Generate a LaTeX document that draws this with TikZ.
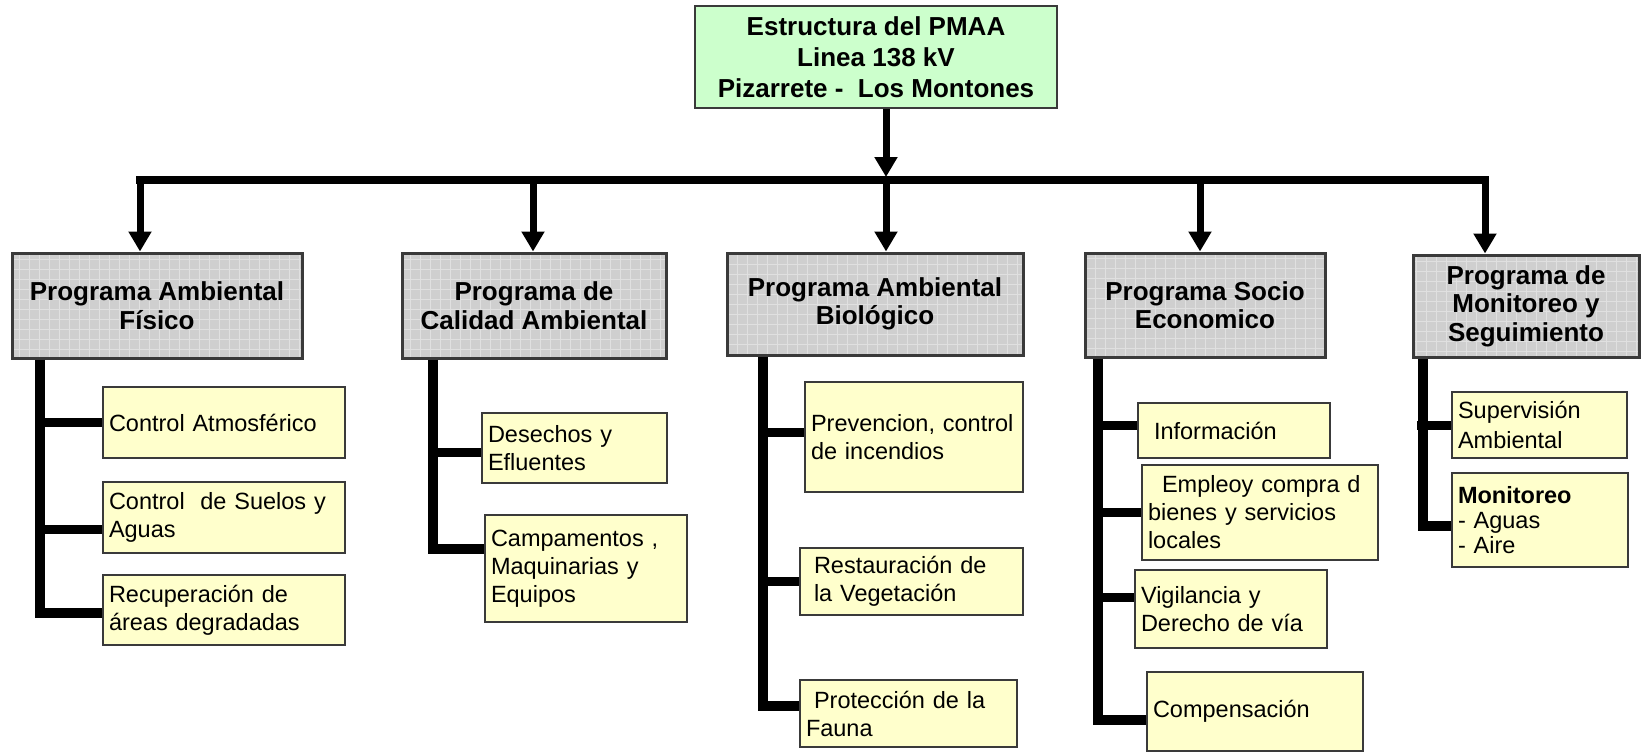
\documentclass[tikz,border=0pt]{standalone}
\usepackage{fontspec}
\setmainfont{Liberation Sans}
\usetikzlibrary{arrows.meta}
\definecolor{topfill}{HTML}{CCFFCC}
\definecolor{subfill}{HTML}{FFFFCC}
\definecolor{progfill}{HTML}{CFCFCF}
\definecolor{gridcol}{HTML}{E0E0E0}
\definecolor{boxline}{HTML}{3A3A3A}
\begin{document}
\begin{tikzpicture}[x=1pt,y=-1pt,
  topbox/.style={draw=boxline, line width=2pt, fill=topfill, align=center, font=\bfseries\fontsize{26}{31}\selectfont, inner sep=0pt},
  prog/.style={draw=boxline, line width=3pt, fill=progfill, align=center, font=\bfseries\fontsize{26}{28.5}\selectfont, inner sep=0pt,
    path picture={\draw[gridcol, line width=1pt] (path picture bounding box.south west) grid[step=10pt] (path picture bounding box.north east);}},
  sub/.style={draw=boxline, line width=2pt, fill=subfill, align=left, font=\fontsize{23.5}{28}\selectfont, inner xsep=6pt, inner ysep=0pt},
  arr/.style={line width=7pt, -{Triangle[width=22pt,length=20pt]}},
  bar/.style={line width=8pt, line cap=rect},
  trunk/.style={line width=10pt},
  branch/.style={line width=9pt},
]
\useasboundingbox (0,0) rectangle (1644,753);
\fill[white] (0,0) rectangle (1644,753);

% top
\node[topbox, minimum width=362pt, minimum height=102pt] (top) at (876,57) {Estructura del PMAA\\Linea 138 kV\\Pizarrete -\ \ Los Montones};

% programs
\node[prog, minimum width=290pt, minimum height=105pt] (p1) at (157,305.5) {Programa Ambiental\\Físico};
\node[prog, minimum width=264pt, minimum height=105pt] (p2) at (534,305.5) {Programa de\\Calidad Ambiental};
\node[prog, minimum width=296pt, minimum height=102pt] (p3) at (875,304) {Programa Ambiental\\Biológico};
\node[prog, minimum width=240pt, minimum height=104pt] (p4) at (1205,305) {Programa Socio\\Economico};
\node[prog, minimum width=226pt, minimum height=102pt] (p5) at (1526,306) {Programa de\\Monitoreo y\\Seguimiento};

% sub boxes
\node[sub, text width=230pt, minimum height=71pt] (s11) at (224,422.5) {Control Atmosférico};
\node[sub, text width=230pt, minimum height=71pt] (s12) at (224,517.5) {Control\ \ de Suelos y\\Aguas};
\node[sub, text width=230pt, minimum height=70pt] (s13) at (224,610) {Recuperación de\\áreas degradadas};

\node[sub, text width=173pt, minimum height=70pt] (s21) at (574.5,448) {Desechos y\\Efluentes};
\node[sub, text width=190pt, minimum height=107pt] (s22) at (586,568.5) {Campamentos ,\\Maquinarias y\\Equipos};

\node[sub, text width=206pt, minimum height=110pt] (s31) at (914,437) {Prevencion, control\\de incendios};
\node[sub, text width=211pt, minimum height=67pt] (s32) at (911.5,581.5) {\hspace*{8pt}Restauración de\\\hspace*{8pt}la Vegetación};
\node[sub, text width=205pt, minimum height=67pt] (s33) at (908.5,713.5) {\hspace*{8pt}Protección de la\\Fauna};

\node[sub, text width=180pt, minimum height=55pt] (s41) at (1234,430.5) {\hspace*{10pt}Información};
\node[sub, text width=224pt, minimum height=95pt] (s42) at (1260,512.5) {\hspace*{14pt}Empleoy compra d\\bienes y servicios\\locales};
\node[sub, text width=180pt, minimum height=78pt] (s43) at (1231,609) {Vigilancia y\\Derecho de vía};
\node[sub, text width=204pt, minimum height=79pt] (s44) at (1255,711.5) {Compensación};

\node[sub, text width=163pt, minimum height=66pt, font=\fontsize{23.5}{30}\selectfont] (s51) at (1539.5,425) {Supervisión\\Ambiental};
\node[sub, text width=164pt, minimum height=94pt, font=\fontsize{23.5}{25}\selectfont] (s52) at (1540,520) {\textbf{Monitoreo}\\- Aguas\\- Aire};

% top connector and bar
\coordinate (hubtip) at (886,177);
\coordinate (b1) at (140,180);
\coordinate (b2) at (533,180);
\coordinate (b3) at (886,180);
\coordinate (b4) at (1200,180);
\coordinate (b5) at (1485,180);
\draw[arr] (top.south -| hubtip) -- (hubtip);
\draw[bar] (b1) -- (b5);
\draw[arr] (b1) -- (b1 |- p1.north);
\draw[arr] (b2) -- (b2 |- p2.north);
\draw[arr] (b3) -- (b3 |- p3.north);
\draw[arr] (b4) -- (b4 |- p4.north);
\draw[arr] (b5) -- (b5 |- p5.north);

% trunk x positions
\coordinate (c1) at (40,0);
\coordinate (c2) at (433,0);
\coordinate (c3) at (763,0);
\coordinate (c4) at (1098,0);
\coordinate (c5) at (1423,0);
\coordinate (c5l) at (1417,0);

% branch points on the boxes
\coordinate (k11) at (s11.west);
\coordinate (k12) at ([yshift=-12pt]s12.west);
\coordinate (k13) at ([yshift=-3pt]s13.west);
\coordinate (k21) at ([yshift=-4pt]s21.west);
\coordinate (k22) at ([yshift=20pt]s22.west);
\coordinate (k31) at ([yshift=5pt]s31.west);
\coordinate (k32) at (s32.west);
\coordinate (k33) at ([yshift=8pt]s33.west);
\coordinate (k41) at ([yshift=5pt]s41.west);
\coordinate (k42) at (s42.west);
\coordinate (k43) at ([yshift=12pt]s43.west);
\coordinate (k44) at ([yshift=-8pt]s44.west);
\coordinate (k51) at (s51.west);
\coordinate (k52) at ([yshift=-6pt]s52.west);

\draw[trunk] (p1.south -| c1) |- (k13);
\draw[branch] (c1 |- k11) -- (k11);
\draw[branch] (c1 |- k12) -- (k12);

\draw[trunk] (p2.south -| c2) |- (k22);
\draw[branch] (c2 |- k21) -- (k21);

\draw[trunk] (p3.south -| c3) |- (k33);
\draw[branch] (c3 |- k31) -- (k31);
\draw[branch] (c3 |- k32) -- (k32);

\draw[trunk] (p4.south -| c4) |- (k44);
\draw[branch] (c4 |- k41) -- (k41);
\draw[branch] (c4 |- k42) -- (k42);
\draw[branch] (c4 |- k43) -- (k43);

\draw[trunk] (p5.south -| c5) |- (k52);
\draw[branch] (c5l |- k51) -- (k51);
\end{tikzpicture}
\end{document}
